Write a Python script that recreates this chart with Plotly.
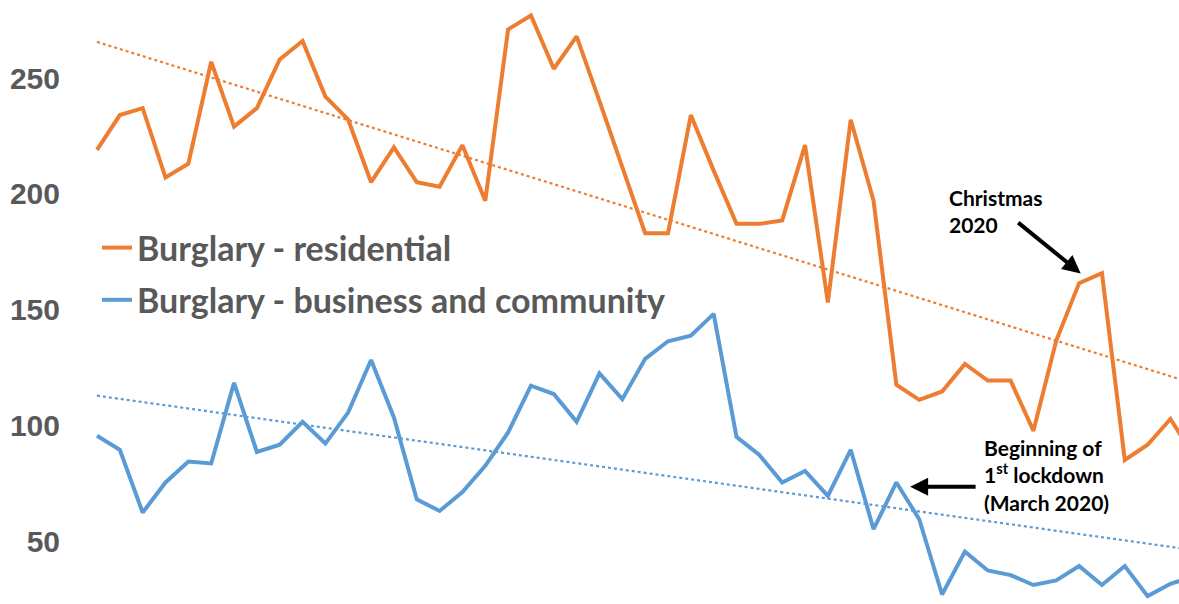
import plotly.graph_objects as go
import pandas as pd

# ---- data ----
months = list(pd.date_range("2017-04-01", periods=49, freq="MS").strftime("%b %Y"))
idx = list(range(49))

residential = [219, 234, 237, 207, 213, 257, 229, 237, 258, 266, 242, 232, 205, 220,
               205, 203, 221, 197, 271, 277, 254, 268, 240, 211, 183, 183, 234, 210,
               187, 187, 188.5, 221, 153, 232, 197, 117.5, 111, 114.6, 126.5, 119.3,
               119.3, 97.6, 136.6, 161.4, 165.7, 85, 91.6, 102.7, 87]

business = [95.5, 89.4, 62.3, 75.3, 84.3, 83.5, 118.3, 88.5, 91.6, 101.5, 92.1, 105.6,
            128.2, 103.4, 68, 63, 71.2, 82.5, 96.9, 117.1, 113.5, 101.5, 122.4, 111.3,
            128.7, 136.3, 138.7, 148.1, 95.0, 87.2, 75.3, 80.3, 69.5, 89.4, 55.1, 75.3,
            59.4, 26.9, 45.4, 37.3, 35.3, 31.0, 33.0, 39.2, 31.0, 39.2, 26.2, 31.5, 34.6]

trend_x = [0, 48]
trend_residential = [265.6, 118.1]
trend_business = [112.8, 46.1]

tick_vals = [50, 100, 150, 200, 250]

ORANGE = "#ED7D31"
BLUE = "#5B9BD5"
GREY = "#595959"

W, H = 1179, 604
L = 66
PW = W - L

fig = go.Figure()
fig.add_trace(go.Scatter(x=idx, y=residential, mode="lines", name="Burglary - residential",
                         line=dict(color=ORANGE, width=4), customdata=months,
                         legendgroup="a"))
fig.add_trace(go.Scatter(x=idx, y=business, mode="lines",
                         name="Burglary - business and community",
                         line=dict(color=BLUE, width=4), customdata=months,
                         legendgroup="b"))
fig.add_trace(go.Scatter(x=trend_x, y=trend_residential, mode="lines", showlegend=False,
                         line=dict(color=ORANGE, width=2.2, dash="3px,3px")))
fig.add_trace(go.Scatter(x=trend_x, y=trend_business, mode="lines", showlegend=False,
                         line=dict(color=BLUE, width=2.2, dash="3px,3px")))

ann_font = dict(family="Lato, Open Sans, sans-serif", size=21, color="black")
fig.add_annotation(x=37.2, y=192.5, text="<b>Christmas<br>2020</b>", showarrow=False,
                   xanchor="left", yanchor="middle", align="left", font=ann_font)
fig.add_annotation(x=43.07, y=165.6, text="", showarrow=True, ax=-64, ay=-52,
                   arrowhead=2, arrowsize=0.9, arrowwidth=4, arrowcolor="black")
fig.add_annotation(x=38.75, y=78.5,
                   text="<b>Beginning of<br>1<sup>st</sup> lockdown<br>(March 2020)</b>",
                   showarrow=False, xanchor="left", yanchor="middle", align="left",
                   font=ann_font)
fig.add_annotation(x=35.6, y=73.5, text="", showarrow=True, ax=67, ay=0,
                   arrowhead=2, arrowsize=0.9, arrowwidth=4, arrowcolor="black")

fig.update_layout(
    width=W, height=H,
    margin=dict(l=L, r=0, t=0, b=0, autoexpand=False),
    paper_bgcolor="white", plot_bgcolor="white",
    showlegend=True,
    legend=dict(x=(97 - L) / PW, y=1 - 219 / H, xanchor="left", yanchor="top",
                bgcolor="rgba(0,0,0,0)", tracegroupgap=5,
                font=dict(family="Lato, Open Sans, sans-serif", size=34, color=GREY,
                          weight="bold")),
    xaxis=dict(range=[-1.357, -1.357 + PW / 22.84], showgrid=False, zeroline=False,
               showline=False, showticklabels=False, ticks="", automargin=False),
    yaxis=dict(range=[22.8, 283.7], tickvals=tick_vals, showgrid=False, zeroline=False,
               showline=False, ticks="", ticklabelstandoff=5, automargin=False,
               tickfont=dict(family="Liberation Sans, Arial, sans-serif", size=30,
                             color=GREY, weight="bold")),
)

fig.write_html("out.html",
               config={"displayModeBar": False},
               post_script="document.body.style.margin='0';"
                           "document.body.style.overflow='hidden';")
